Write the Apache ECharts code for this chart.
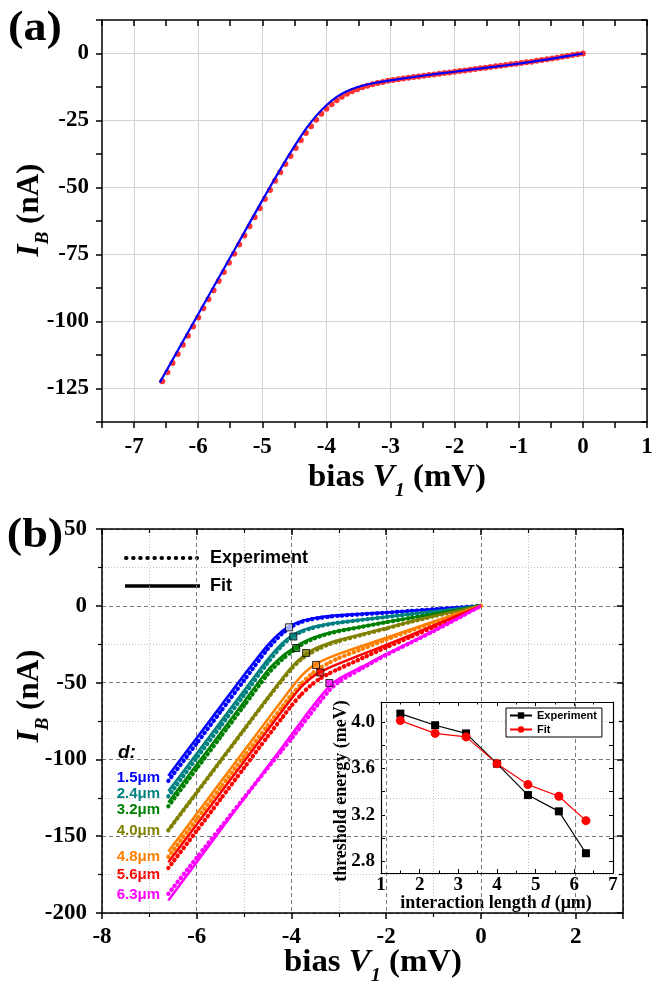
<!DOCTYPE html>
<html><head><meta charset="utf-8">
<script src="https://cdn.jsdelivr.net/npm/echarts@6/dist/echarts.min.js"></script>
<style>html,body{margin:0;padding:0;background:#fff}#c{width:664px;height:982px}</style>
</head><body><div id="c"></div>
<script>
// ---------- Panel (a) data ----------
const aExpV = [-6.56,-6.48,-6.40,-6.32,-6.24,-6.16,-6.08,-6.00,-5.92,-5.84,-5.76,-5.68,-5.60,-5.52,-5.44,-5.36,-5.28,-5.20,-5.12,-5.04,-4.96,-4.88,-4.80,-4.72,-4.64,-4.56,-4.48,-4.40,-4.32,-4.24,-4.16,-4.08,-4.00,-3.92,-3.84,-3.76,-3.68,-3.60,-3.52,-3.44,-3.36,-3.28,-3.20,-3.12,-3.04,-2.96,-2.88,-2.80,-2.72,-2.64,-2.56,-2.48,-2.40,-2.32,-2.24,-2.16,-2.08,-2.00,-1.92,-1.84,-1.76,-1.68,-1.60,-1.52,-1.44,-1.36,-1.28,-1.20,-1.12,-1.04,-0.96,-0.88,-0.80,-0.72,-0.64,-0.56,-0.48,-0.40,-0.32,-0.24,-0.16,-0.08,0.00];
const aExpI = [-122.3,-118.9,-115.5,-112.1,-108.7,-105.3,-101.9,-98.5,-95.1,-91.7,-88.3,-84.9,-81.5,-78.1,-74.7,-71.3,-67.9,-64.5,-61.1,-57.7,-54.3,-50.9,-47.5,-44.3,-41.2,-38.2,-35.3,-32.4,-29.7,-27.1,-24.7,-22.5,-20.6,-18.9,-17.4,-16.1,-15.0,-14.1,-13.3,-12.6,-12.0,-11.5,-11.0,-10.6,-10.2,-9.9,-9.6,-9.3,-9.05,-8.8,-8.55,-8.3,-8.05,-7.8,-7.55,-7.3,-7.05,-6.8,-6.55,-6.3,-6.05,-5.8,-5.55,-5.3,-5.05,-4.8,-4.55,-4.3,-4.05,-3.8,-3.55,-3.3,-3.05,-2.75,-2.45,-2.15,-1.85,-1.55,-1.25,-0.9,-0.6,-0.3,0];
const aFitV = [-6.6,-6.2,-5.8,-5.4,-5.0,-4.8,-4.6,-4.45,-4.3,-4.15,-4.0,-3.85,-3.7,-3.5,-3.25,-3.0,-2.5,-2.0,-1.5,-1.0,-0.5,0];
const aFitI = [-122.8,-105.8,-88.8,-71.8,-54.8,-46.5,-38.5,-32.8,-27.5,-23.0,-19.3,-16.4,-14.3,-12.4,-11.0,-10.0,-8.3,-6.8,-5.3,-3.8,-2.0,0];

// ---------- Panel (b) data ----------
const bV = [-6.6,-6.0,-5.5,-5.0,-4.5,-4.2,-4.0,-3.8,-3.6,-3.4,-3.2,-3.0,-2.5,-2.0,-1.5,-1.0,-0.5,0];
const fit15 = [-110.6,-86.0,-65.5,-45.0,-25.5,-16.5,-12.6,-10.0,-8.5,-7.5,-6.7,-6.1,-5.2,-4.3,-3.3,-2.2,-1.1,0];
const exp15 = [-114.0,-89.5,-69.0,-48.5,-28.0,-18.2,-13.6,-10.6,-8.9,-7.9,-7.1,-6.5,-5.5,-4.5,-3.4,-2.3,-1.2,0];
const fit24 = [-120.8,-96.2,-75.7,-55.2,-34.8,-24.5,-19.5,-16.3,-14.2,-12.8,-11.7,-10.8,-9.0,-7.2,-5.4,-3.6,-1.8,0];
const exp24 = [-124.0,-99.0,-78.5,-58.0,-37.0,-26.0,-20.5,-17.0,-14.8,-13.2,-12.0,-11.0,-9.1,-7.3,-5.5,-3.7,-1.8,0];
const fit32 = [-128.0,-103.4,-82.9,-62.4,-42.0,-33.0,-28.5,-24.5,-21.5,-19.3,-17.6,-16.2,-13.5,-10.6,-8.0,-5.4,-2.7,0];
const exp32 = [-130.5,-106.0,-85.5,-65.0,-44.5,-35.0,-30.0,-25.5,-22.3,-19.9,-18.0,-16.5,-13.6,-10.7,-8.0,-5.4,-2.7,0];
const fit40 = [-145.8,-121.2,-100.7,-80.2,-59.7,-47.5,-40.0,-34.0,-29.5,-26.5,-24.2,-22.3,-18.3,-14.5,-10.3,-6.6,-3.3,0];
const exp40 = [-146.2,-121.7,-101.2,-80.7,-60.2,-48.5,-41.0,-35.0,-30.8,-27.6,-25.0,-23.0,-18.8,-14.8,-10.6,-6.8,-3.4,0];
const fit48 = [-160.0,-135.4,-114.9,-94.4,-73.9,-61.6,-53.5,-46.0,-40.3,-36.5,-33.7,-31.3,-26.0,-20.8,-15.5,-10.3,-5.1,0];
const exp48 = [-163.5,-139.0,-118.5,-98.0,-78.0,-66.0,-58.0,-51.0,-45.0,-40.5,-37.0,-34.0,-28.0,-22.0,-16.3,-10.8,-5.3,0];
const fit56 = [-167.0,-142.4,-121.9,-101.4,-80.9,-68.6,-60.5,-53.0,-47.3,-43.2,-40.2,-37.6,-31.5,-25.5,-19.2,-12.8,-6.4,0];
const exp56 = [-170.7,-146.5,-126.0,-105.5,-85.0,-73.0,-65.0,-58.0,-52.0,-47.5,-44.0,-41.0,-34.0,-27.0,-20.5,-13.8,-6.9,0];
const fit63 = [-191.8,-166.9,-146.1,-125.4,-104.6,-92.2,-83.9,-75.6,-67.4,-59.5,-52.5,-47.5,-39.5,-31.5,-24.0,-16.3,-8.3,0];
const exp63 = [-187.5,-164.0,-144.5,-125.0,-105.5,-94.0,-86.5,-78.5,-70.5,-62.5,-55.0,-49.5,-40.5,-32.0,-24.3,-16.5,-8.4,0];
const kneeV = [-4.05,-3.96,-3.90,-3.69,-3.48,-3.39,-3.20];
const kneeI = [-14.0,-20.0,-27.5,-30.7,-38.5,-43.4,-50.3];
const dLabels = ['1.5\u03bcm','2.4\u03bcm','3.2\u03bcm','4.0\u03bcm','4.8\u03bcm','5.6\u03bcm','6.3\u03bcm'];
const dColors = ['#0000ff','#008080','#008000','#808000','#ff8000','#ff0000','#ff00ff'];
const kneeFill = ['#cfd8ff','#008080','#008000','#808000','#ff8000','#ff0000','#ff00ff'];

// ---------- Inset data ----------
const dVals = [1.5,2.4,3.2,4.0,4.8,5.6,6.3];
const thrExp = [4.07,3.97,3.90,3.64,3.37,3.23,2.87];
const thrFit = [4.01,3.90,3.87,3.64,3.46,3.36,3.15];
const insetYLabels = [2.8,3.2,3.6,4.0];
const insetYTicks = [2.8,3.0,3.2,3.4,3.6,3.8,4.0];

const fitSets = [fit15,fit24,fit32,fit40,fit48,fit56,fit63];
const expSets = [exp15,exp24,exp32,exp40,exp48,exp56,exp63];
const zip = (xs, ys) => xs.map((x, i) => [x, ys[i]]);

const SERIF = '"Liberation Serif","Times New Roman",serif';
const SANS = '"Liberation Sans",Arial,sans-serif';
const AXC = '#000';

function lbl(size, margin, fmt, extra) {
  return Object.assign({ show: true, fontFamily: SERIF, fontWeight: 'bold', fontSize: size, color: '#000', margin: margin, formatter: fmt }, extra || {});
}
const near = (v, step) => Math.abs(v / step - Math.round(v / step)) < 1e-6;

const xAxes = [
  { gridIndex: 0, type: 'value', position: 'bottom', min: -7.5, max: 1, interval: 0.5,
    axisLine: { onZero: false, lineStyle: { color: AXC, width: 1.5 } },
    axisTick: { show: true, inside: false, length: 6, lineStyle: { color: AXC, width: 1.5 } },
    axisLabel: lbl(23, 14, v => near(v, 1) ? String(Math.round(v)) : ''),
    splitLine: { show: true, lineStyle: { color: ['rgba(0,0,0,0)', '#d2d2d2'], width: 1 } } },
  { gridIndex: 0, type: 'value', position: 'top', min: -7.5, max: 1, interval: 0.5,
    axisLine: { onZero: false, lineStyle: { color: AXC, width: 1.5 } },
    axisTick: { show: true, inside: true, length: 6, lineStyle: { color: AXC, width: 1.5 } },
    axisLabel: { show: false }, splitLine: { show: false } },
  { gridIndex: 1, type: 'value', position: 'bottom', min: -8, max: 3, interval: 2,
    axisLine: { onZero: false, lineStyle: { color: AXC, width: 1.5 } },
    axisTick: { show: true, inside: false, length: 6, lineStyle: { color: AXC, width: 1.5 } },
    minorTick: { show: true, splitNumber: 2, length: 4, lineStyle: { color: AXC, width: 1.2 } },
    axisLabel: lbl(23, 13, v => near(v, 2) ? String(Math.round(v)) : ''),
    splitLine: { show: true, lineStyle: { color: '#7a7a7a', type: [4, 3], width: 1 } },
    minorSplitLine: { show: true, lineStyle: { color: '#c4c4c4', type: [1, 2], width: 1 } } },
  { gridIndex: 1, type: 'value', position: 'top', min: -8, max: 3, interval: 2,
    axisLine: { onZero: false, lineStyle: { color: AXC, width: 1.5 } },
    axisTick: { show: true, inside: true, length: 6, lineStyle: { color: AXC, width: 1.5 } },
    minorTick: { show: true, splitNumber: 2, length: 4, lineStyle: { color: AXC, width: 1.2 } },
    axisLabel: { show: false }, splitLine: { show: false } },
  { gridIndex: 2, type: 'value', position: 'bottom', min: 1, max: 7, interval: 1,
    axisLine: { onZero: false, lineStyle: { color: AXC, width: 1.2 } },
    axisTick: { show: true, inside: true, length: 4, lineStyle: { color: AXC, width: 1 } },
    minorTick: { show: true, splitNumber: 2, length: 2.5, lineStyle: { color: AXC, width: 1 } },
    axisLabel: lbl(19, 3, v => String(Math.round(v))),
    splitLine: { show: false } },
  { gridIndex: 2, type: 'value', position: 'top', min: 1, max: 7, interval: 1,
    axisLine: { onZero: false, lineStyle: { color: AXC, width: 1.2 } },
    axisTick: { show: true, inside: true, length: 4, lineStyle: { color: AXC, width: 1 } },
    minorTick: { show: true, splitNumber: 2, length: 2.5, lineStyle: { color: AXC, width: 1 } },
    axisLabel: { show: false }, splitLine: { show: false } }
];

const insetYFmt = v => insetYLabels.some(t => Math.abs(t - v) < 1e-6) ? v.toFixed(1) : '';
const yAxes = [
  { gridIndex: 0, type: 'value', position: 'left', min: -137.5, max: 12.5, interval: 12.5,
    axisLine: { onZero: false, lineStyle: { color: AXC, width: 1.5 } },
    axisTick: { show: true, inside: false, length: 6, lineStyle: { color: AXC, width: 1.5 } },
    axisLabel: lbl(23, 13, v => near(v, 25) ? String(Math.round(v)) : ''),
    splitLine: { show: true, lineStyle: { color: ['rgba(0,0,0,0)', '#d2d2d2'], width: 1 } } },
  { gridIndex: 0, type: 'value', position: 'right', min: -137.5, max: 12.5, interval: 12.5,
    axisLine: { onZero: false, lineStyle: { color: AXC, width: 1.5 } },
    axisTick: { show: true, inside: true, length: 6, lineStyle: { color: AXC, width: 1.5 } },
    axisLabel: { show: false }, splitLine: { show: false } },
  { gridIndex: 1, type: 'value', position: 'left', min: -200, max: 50, interval: 50,
    axisLine: { onZero: false, lineStyle: { color: AXC, width: 1.5 } },
    axisTick: { show: true, inside: false, length: 6, lineStyle: { color: AXC, width: 1.5 } },
    minorTick: { show: true, splitNumber: 2, length: 4, lineStyle: { color: AXC, width: 1.2 } },
    axisLabel: lbl(23, 15, v => String(Math.round(v))),
    splitLine: { show: true, lineStyle: { color: '#7a7a7a', type: [4, 3], width: 1 } },
    minorSplitLine: { show: true, lineStyle: { color: '#c4c4c4', type: [1, 2], width: 1 } } },
  { gridIndex: 1, type: 'value', position: 'right', min: -200, max: 50, interval: 50,
    axisLine: { onZero: false, lineStyle: { color: AXC, width: 1.5 } },
    axisTick: { show: true, inside: true, length: 6, lineStyle: { color: AXC, width: 1.5 } },
    minorTick: { show: true, splitNumber: 2, length: 4, lineStyle: { color: AXC, width: 1.2 } },
    axisLabel: { show: false }, splitLine: { show: false } },
  { gridIndex: 2, type: 'value', position: 'left', min: 2.7, max: 4.17, splitNumber: 7,
    axisLine: { onZero: false, lineStyle: { color: AXC, width: 1.2 } },
    axisTick: { show: true, inside: true, length: 4, customValues: insetYTicks, lineStyle: { color: AXC, width: 1 } },
    axisLabel: lbl(19, 6, insetYFmt, { customValues: insetYLabels }),
    splitLine: { show: false } },
  { gridIndex: 2, type: 'value', position: 'right', min: 2.7, max: 4.17, splitNumber: 7,
    axisLine: { onZero: false, lineStyle: { color: AXC, width: 1.2 } },
    axisTick: { show: true, inside: true, length: 4, customValues: insetYTicks, lineStyle: { color: AXC, width: 1 } },
    axisLabel: { show: false }, splitLine: { show: false } }
];

const series = [];
series.push({ name: 'aExp', type: 'scatter', xAxisIndex: 0, yAxisIndex: 0, data: zip(aExpV, aExpI),
  symbol: 'circle', symbolSize: 6, itemStyle: { color: '#ff0000' }, z: 2, silent: true });
series.push({ name: 'aFit', type: 'line', xAxisIndex: 0, yAxisIndex: 0, data: zip(aFitV, aFitI),
  smooth: 0.25, showSymbol: false, symbol: 'none', lineStyle: { color: '#0000ff', width: 2.2 }, z: 3, silent: true });
for (let k = 0; k < 7; k++) {
  series.push({ name: 'exp ' + dLabels[k], type: 'line', xAxisIndex: 2, yAxisIndex: 2, data: zip(bV, expSets[k]),
    smooth: 0.25, showSymbol: false, symbol: 'none',
    lineStyle: { color: dColors[k], width: 4.2, type: [0.5, 4.5], cap: 'round' }, z: 2, silent: true });
  series.push({ name: 'fit ' + dLabels[k], type: 'line', xAxisIndex: 2, yAxisIndex: 2, data: zip(bV, fitSets[k]),
    smooth: 0.25, showSymbol: false, symbol: 'none',
    lineStyle: { color: dColors[k], width: 2.5 }, z: 3, silent: true });
}
series.push({ name: 'knee', type: 'scatter', xAxisIndex: 2, yAxisIndex: 2,
  data: kneeV.map((v, i) => ({ value: [v, kneeI[i]], itemStyle: { color: kneeFill[i] } })),
  symbol: 'rect', symbolSize: 7, itemStyle: { borderColor: '#000', borderWidth: 1 }, z: 5, silent: true });
series.push({ name: 'Experiment', type: 'line', xAxisIndex: 4, yAxisIndex: 4, data: zip(dVals, thrExp),
  symbol: 'rect', symbolSize: 8, showSymbol: true, itemStyle: { color: '#000' }, lineStyle: { color: '#000', width: 1.2 }, z: 6, silent: true });
series.push({ name: 'Fit', type: 'line', xAxisIndex: 4, yAxisIndex: 4, data: zip(dVals, thrFit),
  symbol: 'circle', symbolSize: 9, showSymbol: true, itemStyle: { color: '#ff0000' }, lineStyle: { color: '#ff0000', width: 1.2 }, z: 6, silent: true });

function T(x, y, text, rich, extra) {
  return Object.assign({ type: 'text', x: x, y: y, silent: true,
    style: { text: text, rich: rich, fill: '#000', align: 'center', verticalAlign: 'middle', textAlign: 'center', textVerticalAlign: 'middle' } }, extra || {});
}
function tok(size, italic, lh, va, fam) {
  return { fontFamily: fam || SERIF, fontSize: size, fontWeight: 'bold', fontStyle: italic ? 'italic' : 'normal', fill: '#000', color: '#000', lineHeight: lh, verticalAlign: va || 'middle' };
}
const titleRich = { n: tok(31, false, 46), v: tok(31, true, 46), s: tok(19, true, 19, 'bottom') };
const insetRich = { n: tok(18, false, 22), i: tok(18, true, 22) };

const graphics = [
  T(35, 29, '{p|(a)}', { p: tok(42, false, 46) }, { scaleX: 1.1 }),
  T(35, 536, '{p|(b)}', { p: tok(42, false, 46) }, { scaleX: 1.1 }),
  T(397, 478, '{n|bias }{v|V}{s|1}{n| (mV)}', titleRich, { scaleX: 1.06 }),
  T(373, 963, '{n|bias }{v|V}{s|1}{n| (mV)}', titleRich, { scaleX: 1.06 }),
  T(30, 210, '{v|I}{s|B}{n| (nA)}', titleRich, { rotation: Math.PI / 2 }),
  T(30, 696, '{v|I}{s|B}{n| (nA)}', titleRich, { rotation: Math.PI / 2 }),
  T(341, 791, '{n|threshold energy (meV)}', insetRich, { rotation: Math.PI / 2 }),
  T(496, 903, '{n|interaction length }{i|d}{n| (\u03bcm)}', insetRich),
  { type: 'line', silent: true, shape: { x1: 126, y1: 558, x2: 197, y2: 558 },
    style: { stroke: '#000', lineWidth: 4, lineDash: [0.5, 6.6], lineCap: 'round' } },
  { type: 'line', silent: true, shape: { x1: 125, y1: 586, x2: 200, y2: 586 },
    style: { stroke: '#000', lineWidth: 3.5 } },
  { type: 'text', x: 210, y: 558, silent: true, style: { text: 'Experiment', fill: '#000', font: 'bold 18px ' + SANS, align: 'left', verticalAlign: 'middle', textAlign: 'left', textVerticalAlign: 'middle' } },
  { type: 'text', x: 210, y: 586, silent: true, style: { text: 'Fit', fill: '#000', font: 'bold 18px ' + SANS, align: 'left', verticalAlign: 'middle', textAlign: 'left', textVerticalAlign: 'middle' } },
  { type: 'text', x: 118, y: 753, silent: true, style: { text: 'd:', fill: '#000', font: 'italic bold 19px ' + SANS, align: 'left', verticalAlign: 'middle', textAlign: 'left', textVerticalAlign: 'middle' } }
];
const dLabelY = [778, 794, 810, 831, 857, 875, 895];
dLabels.forEach((t, i) => {
  graphics.push({ type: 'text', x: 160, y: dLabelY[i], silent: true,
    style: { text: t, fill: dColors[i], font: 'bold 15px ' + SANS, align: 'right', verticalAlign: 'middle', textAlign: 'right', textVerticalAlign: 'middle' } });
});

const chart = echarts.init(document.getElementById('c'), null, { renderer: 'canvas' });
chart.setOption({
  animation: false,
  backgroundColor: '#fff',
  grid: [
    { left: 102, top: 20, width: 545, height: 402, containLabel: false },
    { left: 102, top: 529, width: 521, height: 384, containLabel: false },
    { left: 381, top: 702, width: 232, height: 171, containLabel: false }
  ],
  xAxis: xAxes,
  yAxis: yAxes,
  legend: { data: ['Experiment', 'Fit'], left: 506, top: 708, orient: 'vertical', itemWidth: 22, itemHeight: 8, itemGap: 3,
    padding: [2, 5, 2, 3], borderColor: '#000', borderWidth: 1, backgroundColor: '#fff',
    textStyle: { fontFamily: SANS, fontWeight: 'bold', fontSize: 11, color: '#000' }, selectedMode: false },
  series: series,
  graphic: graphics
});
</script></body></html>
